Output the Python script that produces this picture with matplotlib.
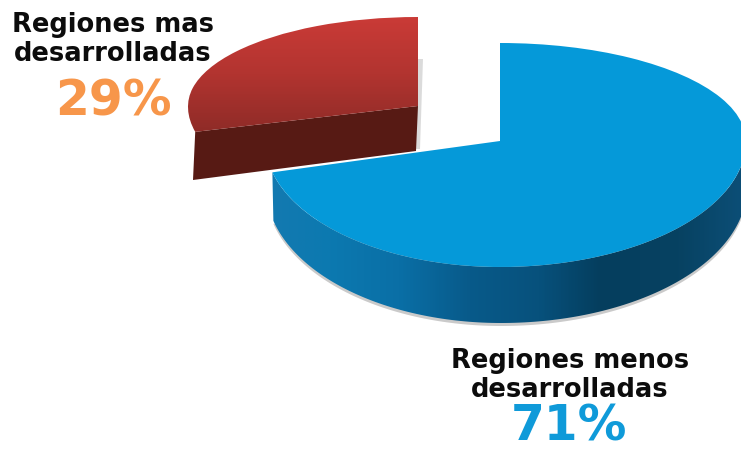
import numpy as np
import matplotlib
matplotlib.use('Agg')
import matplotlib.pyplot as plt
from matplotlib.colors import LinearSegmentedColormap
from matplotlib.patches import Polygon
from matplotlib.transforms import Transform

labels = ['Regiones mas\ndesarrolladas', 'Regiones menos\ndesarrolladas']
shares = [29, 71]
share_labels = ['29%', '71%']


# the slices are tilted, so the near half of the ellipse is taller than the far half
class Tilt(Transform):
    input_dims = 2
    output_dims = 2

    def __init__(self, cx, cy, left, right, up, down):
        super().__init__()
        self.p = (cx, cy, left, right, up, down)

    def transform_non_affine(self, xy):
        cx, cy, left, right, up, down = self.p
        xy = np.asarray(xy, dtype=float)
        x = cx + xy[:, 0] * np.where(xy[:, 0] < 0, left, right)
        y = cy + xy[:, 1] * np.where(xy[:, 1] > 0, up, down)
        return np.column_stack([x, y])


def rim(a1, a2):
    t = np.radians(np.linspace(a1, a2, 150))
    return np.column_stack([np.cos(t), np.sin(t)])


fig = plt.figure(figsize=(7.41, 4.52), dpi=100)
ax = fig.add_axes([0, 0, 1, 1])

wedges, _ = ax.pie(shares, startangle=90, counterclock=True)
red, blue = wedges

red_top = Tilt(418, 452 - 107, 230, 230, 89, 104)
blue_top = Tilt(500, 452 - 142, 235, 246, 98, 126)
blue_low = Tilt(501, 452 - 188, 235, 246, 98, 136)

red.set_transform(red_top + ax.transData)
blue.set_transform(blue_top + ax.transData)
red.set_facecolor('none')
blue.set_facecolor('#0599d9')
blue.set_zorder(5)

# red top, shaded from top to bottom
red_cmap = LinearSegmentedColormap.from_list('r', ['#cb3b37', '#b23430', '#8e2b27'])
im = ax.imshow(np.linspace(0, 1, 100).reshape(-1, 1), cmap=red_cmap, aspect='auto',
               extent=[185, 425, 452 - 135, 452 - 15], zorder=2)
im.set_clip_path(red)

# front cut of the red slice
p1 = red_top.transform(rim(red.theta2, red.theta2))[0]
ax.add_patch(Polygon([p1, (418, 452 - 107), (416, 452 - 152), (193, 452 - 181)],
                     facecolor='#571a14', edgecolor='none', zorder=1))
# soft shadow along the red slice
ax.add_patch(Polygon([(417, 452 - 60), (423, 452 - 60), (420, 452 - 150), (416, 452 - 150)],
                     facecolor='#c4c4c4', edgecolor='none', alpha=0.6, zorder=0.5))

# outer wall of the blue slice
pts = rim(blue.theta1, 360)
upper = blue_top.transform(pts)
lower = blue_low.transform(pts)
shadow = Polygon(lower + np.array([0, -3]), closed=True, facecolor='#8a8a8a', edgecolor='none',
                 alpha=0.45, zorder=2.5)
ax.add_patch(shadow)
wall = Polygon(np.vstack([upper, lower[::-1]]), facecolor='none', edgecolor='none', zorder=3)
ax.add_patch(wall)
blue_cmap = LinearSegmentedColormap.from_list(
    'b', [(0, '#137ab0'), (0.12, '#0c79b0'), (0.27, '#0a6fa6'), (0.42, '#085a8a'),
          (0.57, '#07517c'), (0.70, '#053e5e'), (0.87, '#074262'), (1, '#0c4e76')])
im2 = ax.imshow(np.linspace(0, 1, 200).reshape(1, -1), cmap=blue_cmap, aspect='auto',
                extent=[272, 742, 452 - 330, 452 - 140], zorder=3)
im2.set_clip_path(wall)

ax.set_xlim(0, 741)
ax.set_ylim(0, 452)
ax.set_aspect('auto')
ax.axis('off')

ax.text(113, 452 - 61, labels[0], ha='center', va='baseline', fontsize=18.5, fontweight='bold',
        color='#0c0c0c', linespacing=1.17, zorder=6)
ax.text(113, 452 - 115, share_labels[0], ha='center', va='baseline', fontsize=35, fontweight='bold',
        color='#f7964a', zorder=6)
ax.text(570, 452 - 397, labels[1], ha='center', va='baseline', fontsize=18.5, fontweight='bold',
        color='#0c0c0c', linespacing=1.17, zorder=6)
ax.text(569, 452 - 441, share_labels[1], ha='center', va='baseline', fontsize=35, fontweight='bold',
        color='#0f9ad9', zorder=6)

plt.savefig('out.png', dpi=100)
